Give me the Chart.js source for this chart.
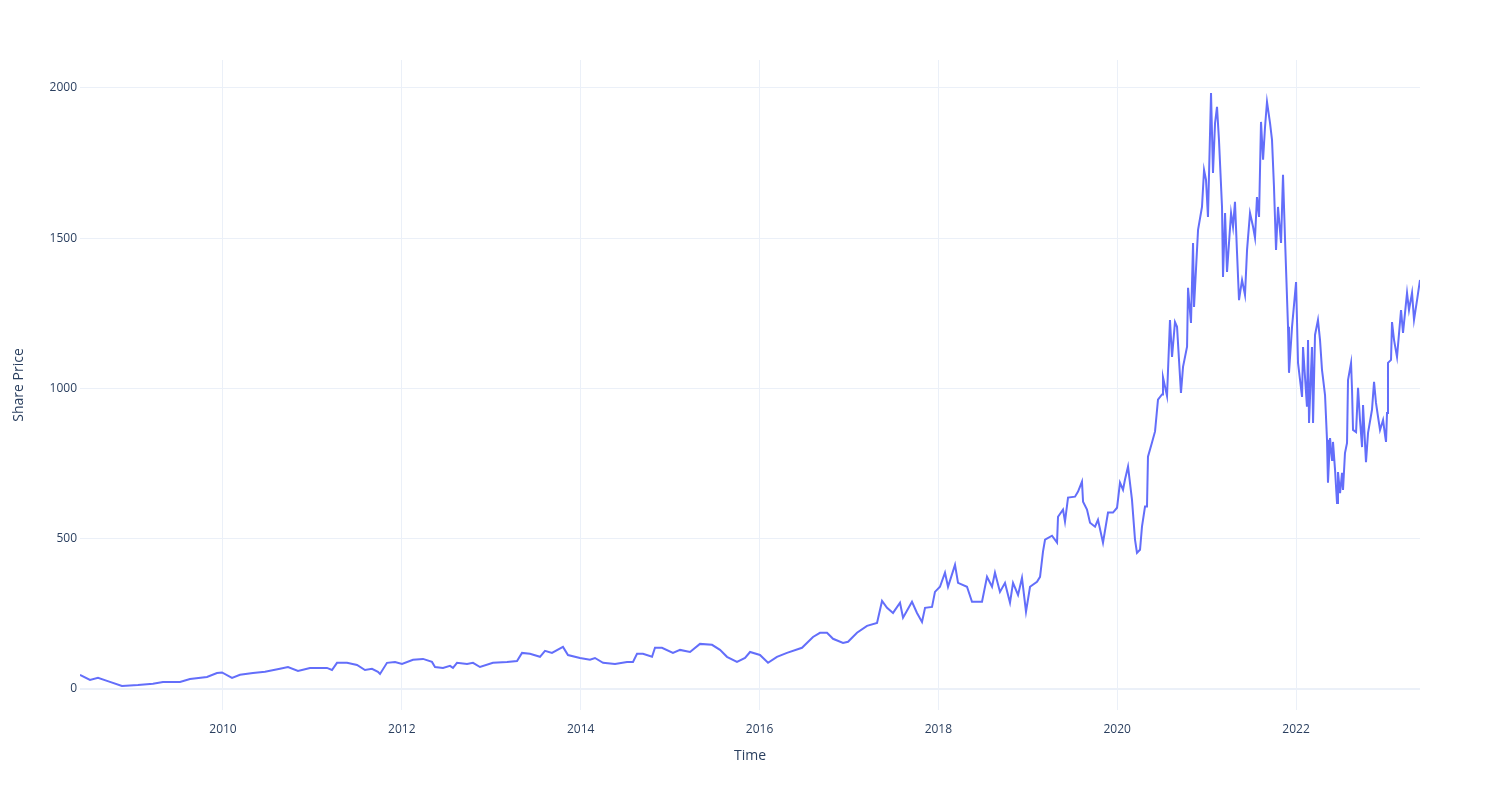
<!DOCTYPE html>
<html>
<head>
<meta charset="utf-8">
<script src="https://cdn.jsdelivr.net/npm/chart.js@4.4.0/dist/chart.umd.min.js"></script>
<style>
  html, body { margin: 0; padding: 0; background: #fff; }
  canvas { display: block; }
</style>
</head>
<body>
<canvas id="priceChart" width="1500" height="800"></canvas>
<script>
// decimal years
const years = [
  2008.401, 2008.513, 2008.602, 2008.703, 2008.870, 2009.049, 2009.217, 2009.329, 2009.519, 2009.631,
  2009.821, 2009.933, 2009.989, 2010.101, 2010.190, 2010.335, 2010.470, 2010.637, 2010.727, 2010.839,
  2010.973, 2011.163, 2011.219, 2011.275, 2011.387, 2011.499, 2011.588, 2011.666, 2011.733, 2011.756,
  2011.834, 2011.924, 2012.002, 2012.125, 2012.237, 2012.337, 2012.371, 2012.460, 2012.539, 2012.572,
  2012.617, 2012.729, 2012.796, 2012.874, 2013.019, 2013.176, 2013.288, 2013.344, 2013.433, 2013.545,
  2013.601, 2013.679, 2013.802, 2013.858, 2013.992, 2014.104, 2014.160, 2014.250, 2014.384, 2014.518,
  2014.585, 2014.630, 2014.697, 2014.798, 2014.831, 2014.909, 2015.032, 2015.111, 2015.223, 2015.334,
  2015.469, 2015.558, 2015.636, 2015.748, 2015.838, 2015.894, 2016.005, 2016.095, 2016.195, 2016.307,
  2016.475, 2016.598, 2016.676, 2016.755, 2016.822, 2016.934, 2016.990, 2017.090, 2017.202, 2017.314,
  2017.370, 2017.426, 2017.493, 2017.571, 2017.605, 2017.705, 2017.761, 2017.817, 2017.851, 2017.929,
  2017.962, 2018.018, 2018.074, 2018.108, 2018.186, 2018.220, 2018.320, 2018.376, 2018.488, 2018.544,
  2018.600, 2018.633, 2018.689, 2018.745, 2018.801, 2018.835, 2018.891, 2018.935, 2018.980, 2019.025,
  2019.103, 2019.137, 2019.170, 2019.193, 2019.271, 2019.327, 2019.338, 2019.394, 2019.416, 2019.450,
  2019.528, 2019.562, 2019.606, 2019.618, 2019.662, 2019.696, 2019.752, 2019.785, 2019.841, 2019.897,
  2019.953, 2019.998, 2020.031, 2020.065, 2020.087, 2020.121, 2020.165, 2020.199, 2020.221, 2020.255,
  2020.277, 2020.311, 2020.333, 2020.344, 2020.389, 2020.423, 2020.456, 2020.501, 2020.512, 2020.557,
  2020.590, 2020.613, 2020.646, 2020.669, 2020.713, 2020.736, 2020.781, 2020.792, 2020.825, 2020.848,
  2020.859, 2020.904, 2020.948, 2020.971, 2020.993, 2021.015, 2021.049, 2021.071, 2021.094, 2021.116,
  2021.138, 2021.172, 2021.183, 2021.206, 2021.228, 2021.273, 2021.295, 2021.317, 2021.340, 2021.362,
  2021.396, 2021.429, 2021.452, 2021.485, 2021.519, 2021.541, 2021.563, 2021.586, 2021.608, 2021.631,
  2021.653, 2021.675, 2021.709, 2021.731, 2021.753, 2021.776, 2021.798, 2021.832, 2021.854, 2021.877,
  2021.910, 2021.921, 2021.955, 2022.000, 2022.022, 2022.067, 2022.078, 2022.122, 2022.134, 2022.145,
  2022.178, 2022.190, 2022.212, 2022.245, 2022.268, 2022.290, 2022.301, 2022.324, 2022.346, 2022.357,
  2022.380, 2022.402, 2022.413, 2022.436, 2022.458, 2022.469, 2022.492, 2022.514, 2022.525, 2022.547,
  2022.570, 2022.581, 2022.615, 2022.626, 2022.637, 2022.671, 2022.693, 2022.715, 2022.738, 2022.749,
  2022.782, 2022.805, 2022.849, 2022.872, 2022.894, 2022.917, 2022.939, 2022.973, 2022.995, 2023.006,
  2023.017, 2023.028, 2023.062, 2023.073, 2023.096, 2023.129, 2023.174, 2023.196, 2023.241, 2023.263,
  2023.297, 2023.319, 2023.353, 2023.386
];

const prices = [
  47, 30, 37, 27, 10, 13, 17, 23, 23, 33,
  40, 53, 55, 37, 47, 53, 57, 67, 73, 60,
  70, 70, 63, 87, 87, 80, 63, 67, 57, 50,
  87, 90, 83, 97, 100, 90, 73, 70, 77, 70,
  87, 83, 87, 73, 87, 90, 93, 120, 117, 107,
  127, 120, 140, 113, 103, 97, 103, 87, 83, 90,
  90, 117, 117, 107, 137, 137, 120, 130, 123, 150,
  147, 130, 107, 90, 103, 123, 113, 87, 107, 120,
  137, 173, 187, 187, 167, 153, 157, 187, 210, 220,
  293, 270, 253, 287, 237, 290, 253, 223, 270, 273,
  323, 340, 387, 340, 413, 353, 340, 290, 290, 373,
  340, 387, 323, 353, 287, 353, 313, 370, 257, 340,
  357, 373, 457, 497, 510, 487, 573, 597, 557, 637,
  640, 657, 690, 623, 597, 553, 540, 563, 487, 587,
  587, 603, 687, 663, 697, 740, 630, 497, 453, 463,
  540, 607, 607, 773, 820, 857, 963, 980, 1037, 975,
  1228, 1105, 1221, 1205, 985, 1072, 1139, 1335, 1218, 1484,
  1271, 1528, 1604, 1727, 1694, 1571, 1983, 1717, 1883, 1937,
  1827, 1604, 1371, 1584, 1388, 1584, 1538, 1621, 1451, 1294,
  1361, 1311, 1461, 1584, 1538, 1501, 1637, 1571, 1887, 1761,
  1870, 1954, 1883, 1827, 1671, 1461, 1604, 1484, 1711, 1494,
  1205, 1052, 1205, 1354, 1085, 972, 1138, 939, 1161, 885,
  1138, 885, 1178, 1228, 1161, 1062, 1035, 978, 829, 686,
  835, 762, 822, 729, 619, 722, 652, 719, 662, 785,
  819, 1028, 1085, 995, 862, 855, 1002, 895, 805, 945,
  755, 852, 929, 1022, 952, 905, 862, 895, 845, 822,
  918, 1085, 1095, 1221, 1161, 1105, 1261, 1185, 1318, 1261,
  1318, 1228, 1294, 1361
];

const xTicks = [2010, 2012, 2014, 2016, 2018, 2020, 2022];
const yTicks = [0, 500, 1000, 1500, 2000];

const gridColor = '#ebf0f8';
const textColor = '#2a3f5f';
const fontFamily = '"Open Sans", verdana, arial, sans-serif';

const points = years.map((x, i) => ({ x: x, y: prices[i] }));

new Chart(document.getElementById('priceChart'), {
  type: 'line',
  data: {
    datasets: [{
      label: 'Share Price',
      data: points,
      borderColor: '#636efa',
      borderWidth: 2,
      pointRadius: 0,
      tension: 0,
      fill: false
    }]
  },
  options: {
    responsive: false,
    animation: false,
    layout: { padding: { top: 60, right: 80, left: 0, bottom: 0 } },
    plugins: {
      legend: { display: false },
      tooltip: { enabled: false }
    },
    scales: {
      x: {
        type: 'linear',
        min: years[0],
        max: years[years.length - 1],
        afterBuildTicks: axis => { axis.ticks = xTicks.map(v => ({ value: v })); },
        afterFit: axis => { axis.height = 90; },
        grid: { color: gridColor, lineWidth: 1, drawTicks: false },
        border: { display: false },
        ticks: {
          padding: 12,
          maxRotation: 0,
          color: textColor,
          font: { family: fontFamily, size: 12 },
          callback: v => String(v)
        },
        title: {
          display: true,
          text: 'Time',
          color: textColor,
          font: { family: fontFamily, size: 14 },
          padding: { top: 4, bottom: 36 }
        }
      },
      y: {
        min: -70,
        max: 2093,
        afterBuildTicks: axis => { axis.ticks = yTicks.map(v => ({ value: v })); },
        afterFit: axis => { axis.width = 80; },
        grid: {
          color: gridColor,
          lineWidth: ctx => (ctx.tick && ctx.tick.value === 0 ? 2 : 1),
          drawTicks: false
        },
        border: { display: false },
        ticks: {
          padding: 3,
          color: textColor,
          font: { family: fontFamily, size: 12 },
          callback: v => String(v)
        },
        title: {
          display: true,
          text: 'Share Price',
          color: textColor,
          font: { family: fontFamily, size: 14 },
          padding: { top: 11, bottom: 4 }
        }
      }
    }
  }
});
</script>
</body>
</html>
